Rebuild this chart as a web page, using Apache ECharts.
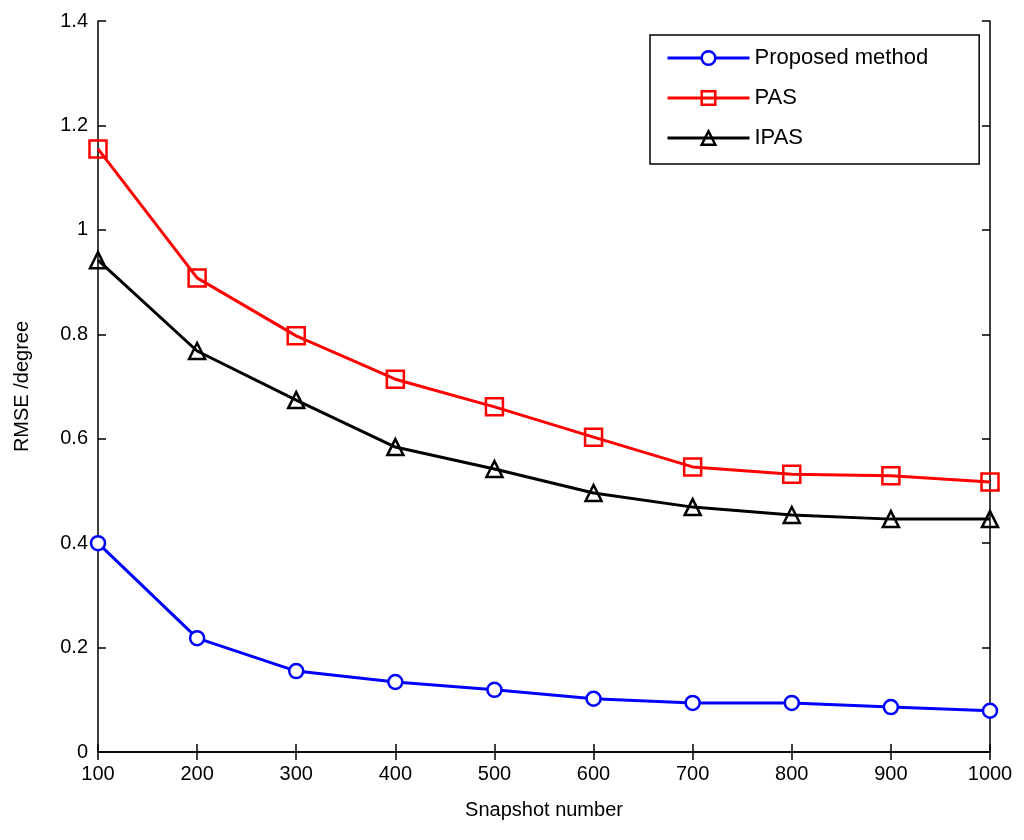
<!DOCTYPE html>
<html>
<head>
<meta charset="utf-8">
<script src="https://cdn.jsdelivr.net/npm/echarts@6/dist/echarts.min.js"></script>
<style>html,body{margin:0;padding:0;background:#fff}#c{width:1024px;height:840px}</style>
</head>
<body>
<div id="c"></div>
<script>
var snapshots = [100, 200, 300, 400, 500, 600, 700, 800, 900, 1000];
var proposed = [0.400, 0.218, 0.155, 0.134, 0.119, 0.102, 0.094, 0.094, 0.086, 0.079];
var pas = [1.155, 0.908, 0.797, 0.714, 0.661, 0.603, 0.546, 0.532, 0.529, 0.517];
var ipas = [0.942, 0.768, 0.674, 0.584, 0.542, 0.496, 0.469, 0.454, 0.446, 0.446];
var yTickLabels = {0: '0', 0.2: '0.2', 0.4: '0.4', 0.6: '0.6', 0.8: '0.8', 1: '1', 1.2: '1.2', 1.4: '1.4'};

function pairs(vals) { return snapshots.map(function (s, i) { return [s, vals[i]]; }); }

var font = '"Liberation Sans", Arial, sans-serif';
var chart = echarts.init(document.getElementById('c'));
var axisLineStyle = { color: '#000', width: 1.5 };
chart.setOption({
  animation: false,
  backgroundColor: '#fff',
  grid: { left: 98, right: 34, top: 21, bottom: 88, show: false },
  legend: {
    left: 650, top: 35,
    orient: 'vertical',
    backgroundColor: '#fff',
    borderColor: '#000', borderWidth: 1.5,
    padding: [12, 51, 15, 16],
    itemWidth: 82, itemHeight: 17, itemGap: 18,
    lineStyle: { width: 3 },
    itemStyle: { borderWidth: 2.5 },
    textStyle: { fontFamily: font, fontSize: 22, color: '#000' },
    data: ['Proposed method', 'PAS', 'IPAS']
  },
  xAxis: [{
    type: 'value', min: 100, max: 1000, interval: 100,
    name: 'Snapshot number', nameLocation: 'middle', nameGap: 48,
    nameTextStyle: { fontFamily: font, fontSize: 20, color: '#000' },
    axisLine: { lineStyle: axisLineStyle },
    axisTick: { inside: true, length: 8, lineStyle: axisLineStyle },
    axisLabel: { fontFamily: font, fontSize: 20, color: '#000', margin: 12,
      formatter: function (v) { return String(v); } },
    splitLine: { show: false }
  }, {
    type: 'value', min: 100, max: 1000, interval: 100, position: 'top',
    axisLine: { lineStyle: axisLineStyle },
    axisTick: { inside: true, length: 8, lineStyle: axisLineStyle },
    axisLabel: { show: false }, splitLine: { show: false }
  }],
  yAxis: [{
    type: 'value', min: 0, max: 1.4, interval: 0.2,
    name: 'RMSE /degree', nameLocation: 'middle', nameGap: 66,
    nameTextStyle: { fontFamily: font, fontSize: 20, color: '#000' },
    axisLine: { show: true, lineStyle: axisLineStyle },
    axisTick: { show: true, inside: true, length: 8, lineStyle: axisLineStyle },
    axisLabel: { fontFamily: font, fontSize: 20, color: '#000', margin: 10,
      formatter: function (v) { var k = Math.round(v * 10) / 10; return yTickLabels[k] !== undefined ? yTickLabels[k] : String(k); } },
    splitLine: { show: false }
  }, {
    type: 'value', min: 0, max: 1.4, interval: 0.2, position: 'right',
    axisLine: { show: true, lineStyle: axisLineStyle },
    axisTick: { show: true, inside: true, length: 8, lineStyle: axisLineStyle },
    axisLabel: { show: false }, splitLine: { show: false }
  }],
  series: [{
    name: 'Proposed method', type: 'line', data: pairs(proposed),
    symbol: 'circle', symbolSize: 14, showAllSymbol: true,
    lineStyle: { color: '#0000ff', width: 3 },
    itemStyle: { color: '#fff', borderColor: '#0000ff', borderWidth: 2.5 },
    color: '#0000ff', z: 3
  }, {
    name: 'PAS', type: 'line', data: pairs(pas),
    symbol: 'rect', symbolSize: 17,
    lineStyle: { color: '#ff0000', width: 3 },
    itemStyle: { color: 'rgba(255,255,255,0)', borderColor: '#ff0000', borderWidth: 2.5 },
    color: '#ff0000', z: 2
  }, {
    name: 'IPAS', type: 'line', data: pairs(ipas),
    symbol: 'triangle', symbolSize: 16,
    lineStyle: { color: '#000', width: 3 },
    itemStyle: { color: 'rgba(255,255,255,0)', borderColor: '#000', borderWidth: 2.5 },
    color: '#000', z: 2
  }]
});
</script>
</body>
</html>
